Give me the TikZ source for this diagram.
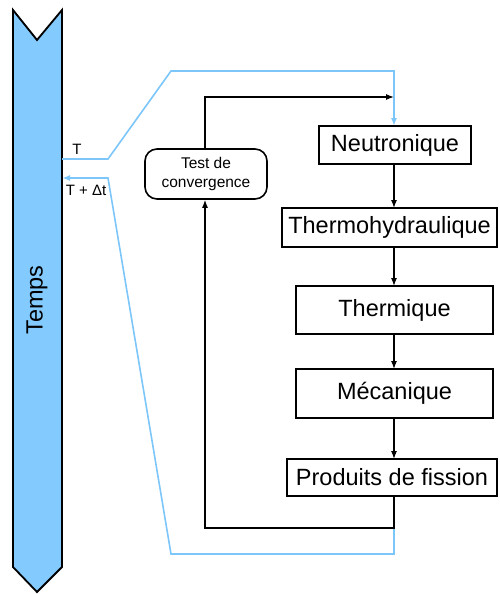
\documentclass[tikz,border=0pt]{standalone}
\usepackage{fontspec}
\setmainfont{Liberation Sans}
\usetikzlibrary{positioning,arrows.meta,calc}
\definecolor{skyfill}{RGB}{131,202,255}
\definecolor{skyline}{RGB}{125,198,250}
\tikzset{
  physbox/.style={rectangle,draw,line width=1.6pt,inner sep=0pt,
                  font=\fontsize{23.5}{28}\selectfont},
  testbox/.style={rectangle,draw,line width=1.6pt,rounded corners=12pt,inner sep=0pt,
                  align=center,font=\fontsize{15.5}{19}\selectfont},
  tlabel/.style={font=\fontsize{15}{18}\selectfont,inner sep=0pt},
  edge/.style={-{Latex[length=8pt,width=6pt]},line width=1.2pt},
  timeedge/.style={-{Latex[length=8pt,width=6pt]},line width=1.6pt,color=skyline},
}
\begin{document}
\begin{tikzpicture}[x=1pt,y=-1pt]
  \useasboundingbox (0,0) rectangle (500,594);
  % ---- time bar ----
  \draw[fill=skyfill,line width=1.8pt,line join=miter]
    (13,10) -- (37,40) -- (62,10) -- (62,567) -- (37,592) -- (13,567) -- cycle;
  \node[rotate=90,font=\fontsize{23.5}{28}\selectfont] (temps) at (37,300) {Temps};
  \coordinate (tOut) at (62,159);
  \coordinate (tIn) at (62,178);
  % ---- physics chain ----
  \node[physbox,minimum width=152pt,minimum height=38pt] (neut) at (395,145) {Neutronique};
  \node[physbox,minimum width=215pt,minimum height=39pt] (thermo) at (389.5,227.5) {Thermohydraulique};
  \node[physbox,minimum width=197pt,minimum height=48pt] (therm) at (394.5,310) {Thermique};
  \node[physbox,minimum width=197pt,minimum height=49pt] (meca) at (394.5,393.5) {Mécanique};
  \node[physbox,minimum width=210pt,minimum height=37pt] (pf) at (392,477.5) {Produits de fission};
  % ---- convergence test ----
  \node[testbox,minimum width=122pt,minimum height=50pt] (test) at (206,174) {Test de\\convergence};
  % ---- labels ----
  \node[tlabel] (lT) at (77,149) {T};
  \node[tlabel] (lTdt) at (86,190) {T + Δt};
  % ---- time edges ----
  \draw[timeedge] (tOut) -- (108,159) -- (171,71) -- (394,71) -- (394,126);
  \draw[timeedge] (394,496) -- (394,554) -- (171,554) -- (108,178) -- (tIn);
  % ---- chain edges ----
  \draw[edge] (394,164) -- (394,208);
  \draw[edge] (394,247) -- (394,286);
  \draw[edge] (394,334) -- (394,369);
  \draw[edge] (394,418) -- (394,459);
  \draw[edge] (394,496) -- (394,528) -- (205,528) -- (test.south -| 205,0);
  \draw[edge] (test.north -| 205,0) -- (205,97) -- (394,97);
\end{tikzpicture}
\end{document}
